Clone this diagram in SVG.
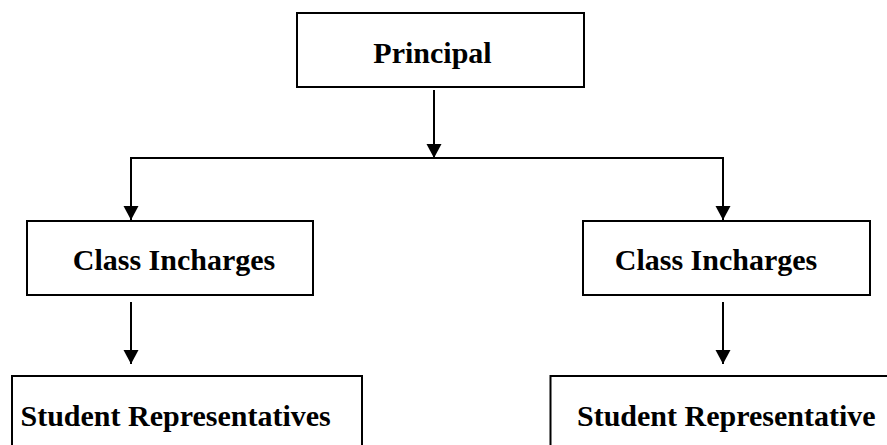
<svg xmlns="http://www.w3.org/2000/svg" width="887" height="445" viewBox="0 0 887 445">
<style>
  .box { fill: #fff; stroke: #000; stroke-width: 2; }
  .lbl { font-weight: bold; font-size: 30px; fill: #000; }
  .conn { stroke: #000; stroke-width: 2; fill: none; }
  .arr { marker-end: url(#ah); }
</style>
<defs>
  <marker id="ah" markerUnits="userSpaceOnUse" markerWidth="14" markerHeight="16" refX="14" refY="8" orient="auto">
    <path d="M0,0.5 L14,8 L0,15.5 z" fill="#000"/>
  </marker>
</defs>
<rect width="887" height="445" fill="#fff"/>
<g id="connectors">
  <line class="conn arr" x1="434" y1="90" x2="434" y2="158"/>
  <line class="conn" x1="130" y1="158" x2="724" y2="158"/>
  <line class="conn arr" x1="131" y1="158" x2="131" y2="220"/>
  <line class="conn arr" x1="723" y1="158" x2="723" y2="220"/>
  <line class="conn arr" x1="131" y1="302" x2="131" y2="364"/>
  <line class="conn arr" x1="723" y1="302" x2="723" y2="364"/>
</g>
<g font-family="'Liberation Serif', 'Times New Roman', Times, serif">
<g id="principal">
  <rect class="box" x="297" y="13" width="287" height="74"/>
  <text class="lbl" x="432.5" y="63" text-anchor="middle">Principal</text>
</g>
<g id="class-incharges-left">
  <rect class="box" x="27" y="221" width="286" height="74"/>
  <text class="lbl" x="174" y="270" text-anchor="middle">Class Incharges</text>
</g>
<g id="class-incharges-right">
  <rect class="box" x="583" y="221" width="287" height="74"/>
  <text class="lbl" x="716" y="270" text-anchor="middle">Class Incharges</text>
</g>
<g id="student-representatives-left">
  <rect class="box" x="12" y="376" width="350" height="100"/>
  <text class="lbl" x="20.5" y="426">Student Representatives</text>
</g>
<g id="student-representative-right">
  <rect class="box" x="550.5" y="376" width="360" height="100"/>
  <text class="lbl" x="577" y="426">Student Representative</text>
</g>
</g>
</svg>
